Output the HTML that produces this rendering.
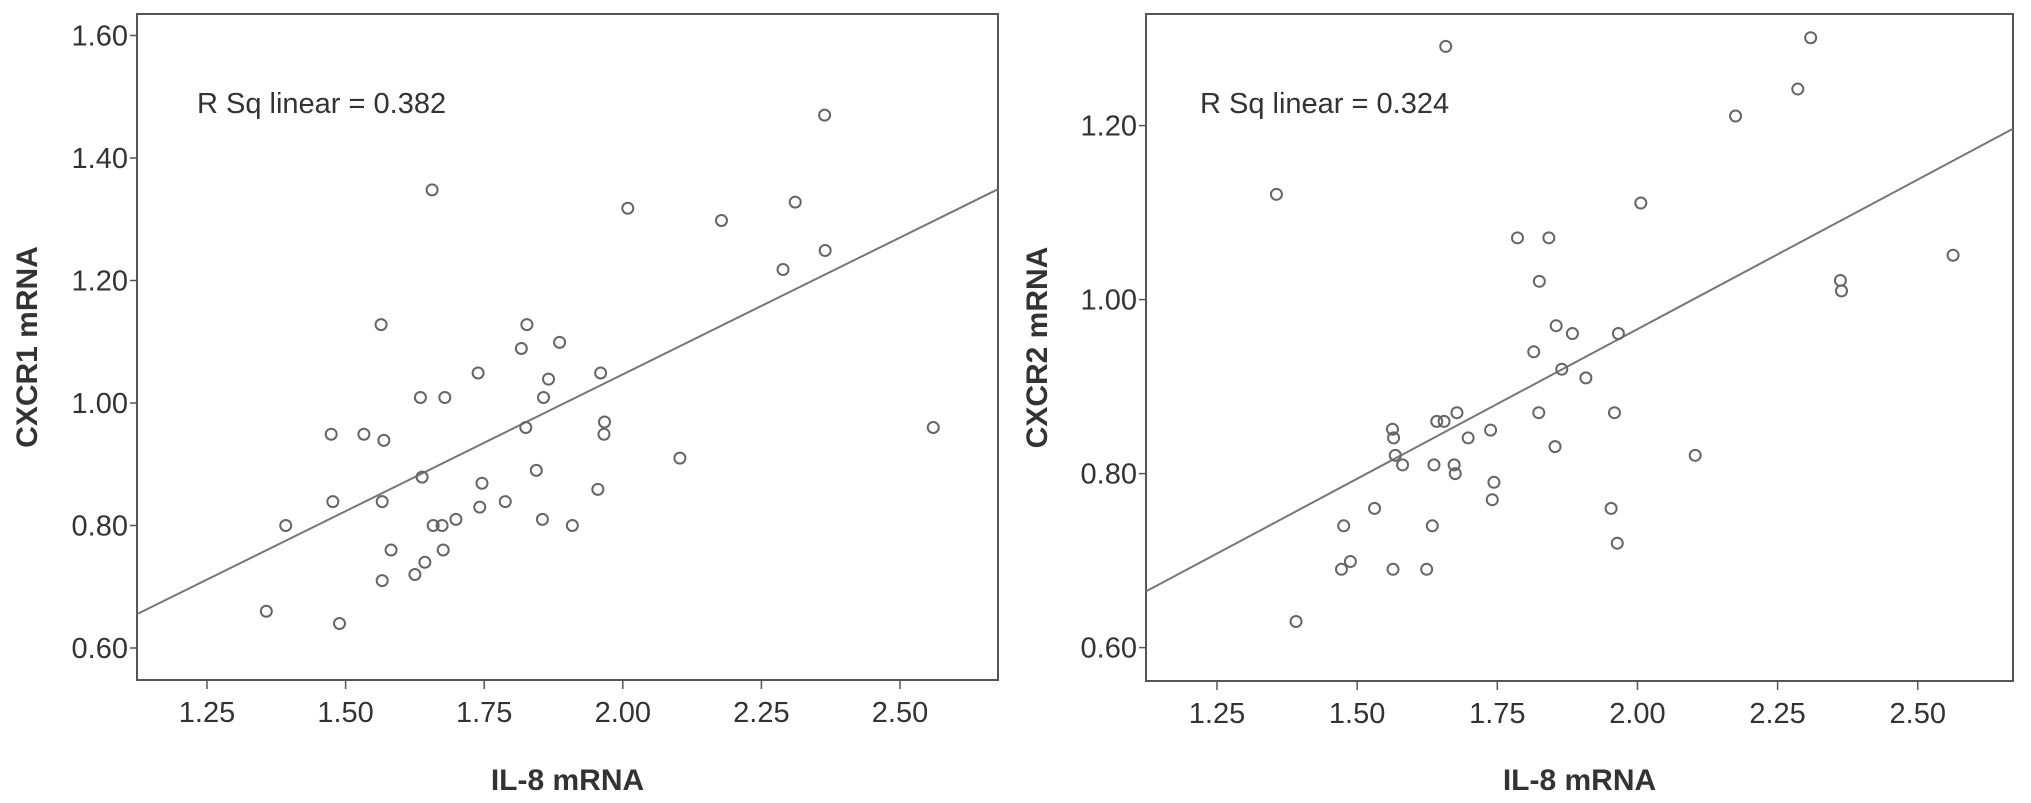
<!DOCTYPE html>
<html><head><meta charset="utf-8"><style>
html,body{margin:0;padding:0;background:#fff;}
svg{display:block;font-family:"Liberation Sans",Arial,sans-serif;}
</style></head><body>
<svg id="chart" width="2031" height="803" viewBox="0 0 2031 803" xmlns="http://www.w3.org/2000/svg"></svg>
<script>
// Shared x ticks
const xTicks = [1.25, 1.50, 1.75, 2.00, 2.25, 2.50];
const xTickLabels = ["1.25","1.50","1.75","2.00","2.25","2.50"];
// Left panel: CXCR1 vs IL-8
const leftYTicks = [0.60, 0.80, 1.00, 1.20, 1.40, 1.60];
const leftYTickLabels = ["0.60","0.80","1.00","1.20","1.40","1.60"];
const leftIL8 = [1.357,1.489,1.392,1.474,1.477,1.533,1.569,1.566,1.582,1.566,1.635,1.679,1.638,1.625,1.643,1.658,1.674,1.676,1.699,1.742,1.746,1.788,1.825,1.844,1.855,1.857,1.909,1.955,1.967,1.966,1.564,1.656,1.739,1.817,1.827,1.886,1.866,1.960,2.009,2.178,2.311,2.289,2.365,2.364,2.560,2.103];
const leftCXCR1 = [0.660,0.640,0.800,0.949,0.839,0.949,0.939,0.839,0.760,0.710,1.009,1.009,0.879,0.720,0.740,0.800,0.800,0.760,0.810,0.830,0.869,0.839,0.960,0.890,0.810,1.009,0.800,0.859,0.969,0.949,1.128,1.348,1.049,1.089,1.128,1.099,1.039,1.049,1.318,1.298,1.328,1.218,1.249,1.470,0.960,0.910];
// Right panel: CXCR2 vs IL-8
const rightYTicks = [0.60, 0.80, 1.00, 1.20];
const rightYTickLabels = ["0.60","0.80","1.00","1.20"];
const rightIL8 = [1.391,1.472,1.488,1.476,1.531,1.564,1.563,1.565,1.568,1.581,1.624,1.634,1.637,1.642,1.655,1.678,1.673,1.675,1.698,1.738,1.744,1.741,1.815,1.824,1.855,1.884,1.865,1.908,1.853,1.966,1.959,1.953,1.964,2.103,1.658,2.309,2.286,2.175,1.356,2.006,1.786,1.842,1.825,2.362,2.364,2.563];
const rightCXCR2 = [0.630,0.690,0.699,0.740,0.760,0.690,0.851,0.841,0.821,0.810,0.690,0.740,0.810,0.860,0.860,0.870,0.810,0.800,0.841,0.850,0.790,0.770,0.940,0.870,0.970,0.961,0.920,0.910,0.831,0.961,0.870,0.760,0.720,0.821,1.291,1.301,1.242,1.211,1.121,1.111,1.071,1.071,1.021,1.022,1.010,1.051];
const leftR2 = "R Sq linear = 0.382";
const rightR2 = "R Sq linear = 0.324";

const NS = "http://www.w3.org/2000/svg";
const svg = document.getElementById("chart");
function mk(tag, attrs, parent){
  const e = document.createElementNS(NS, tag);
  for (const k in attrs) e.setAttribute(k, attrs[k]);
  (parent||svg).appendChild(e);
  return e;
}
function panel(cfg){
  const g = mk("g", {});
  
  
  const sx = v => cfg.x0px + (v - 1.25) * cfg.xUnit;
  const sy = v => cfg.y0px - (v - 0.60) * cfg.yUnit;
  // plot box
  const box = mk("rect", {x:cfg.L, y:cfg.T, width:cfg.R-cfg.L, height:cfg.B-cfg.T, fill:"#fff", stroke:"#555", "stroke-width":2}, g);
  
  
  // y ticks
  cfg.yTicks.forEach((t, i) => {
    const y = sy(t);
    const tk = mk("line", {x1:cfg.L-7, x2:cfg.L, y1:y, y2:y, stroke:"#555", "stroke-width":1.5}, g);
    
    
    const lb = mk("text", {x:cfg.L-9, y:y+10, "text-anchor":"end", "font-size":29, fill:"#333"}, g);
    lb.textContent = cfg.yLabels[i];
    
    
  });
  // x ticks
  xTicks.forEach((t, i) => {
    const x = sx(t);
    const tk = mk("line", {x1:x, x2:x, y1:cfg.B, y2:cfg.B+9, stroke:"#555", "stroke-width":1.5}, g);
    
    
    const lb = mk("text", {x:x, y:cfg.B+42, "text-anchor":"middle", "font-size":29, fill:"#333"}, g);
    lb.textContent = xTickLabels[i];
    
    
  });
  // regression line from data (least squares)
  const n = cfg.xs.length;
  let mx=0,my=0; for(let i=0;i<n;i++){mx+=cfg.xs[i];my+=cfg.ys[i];} mx/=n; my/=n;
  let sxy=0,sxx=0; for(let i=0;i<n;i++){sxy+=(cfg.xs[i]-mx)*(cfg.ys[i]-my);sxx+=(cfg.xs[i]-mx)**2;}
  const b = sxy/sxx, a = my - b*mx;
  const xa = 1.25 + (cfg.L - cfg.x0px)/cfg.xUnit, xb = 1.25 + (cfg.R - cfg.x0px)/cfg.xUnit;
  const fit = mk("line", {x1:sx(xa), y1:sy(a+b*xa), x2:sx(xb), y2:sy(a+b*xb), stroke:"#777", "stroke-width":2}, g);
  
  
  // points
  for (let i=0;i<n;i++){
    const c = mk("circle", {cx:sx(cfg.xs[i]), cy:sy(cfg.ys[i]), r:5.5, fill:"none", stroke:"#666", "stroke-width":2}, g);
    
    
  }
  // R sq annotation
  const r2 = mk("text", {x:cfg.r2x, y:113, "font-size":29, fill:"#333"}, g);
  r2.textContent = cfg.r2;
  
  
  // axis titles
  const xt = mk("text", {x:(cfg.L+cfg.R)/2, y:790, "text-anchor":"middle", "font-size":30, "font-weight":"bold", fill:"#333"}, g);
  xt.textContent = "IL-8 mRNA";
  
  
  const yt = mk("text", {x:0, y:0, "text-anchor":"middle", "font-size":30, "font-weight":"bold", fill:"#333", transform:"translate("+cfg.ytx+","+((cfg.T+cfg.B)/2)+") rotate(-90)"}, g);
  yt.textContent = cfg.yTitle;
  
  
}
panel({name:"cxcr1-panel", L:137, R:998, T:14, B:680, x0px:207, xUnit:554.4, y0px:648, yUnit:612.5,
  yTicks:leftYTicks, yLabels:leftYTickLabels, xs:leftIL8, ys:leftCXCR1, r2:leftR2, r2x:197, ytx:37, yTitle:"CXCR1 mRNA"});
panel({name:"cxcr2-panel", L:1146, R:2013, T:14, B:681, x0px:1217, xUnit:560.6, y0px:647.6, yUnit:870,
  yTicks:rightYTicks, yLabels:rightYTickLabels, xs:rightIL8, ys:rightCXCR2, r2:rightR2, r2x:1200, ytx:1047, yTitle:"CXCR2 mRNA"});
</script>
</body></html>
